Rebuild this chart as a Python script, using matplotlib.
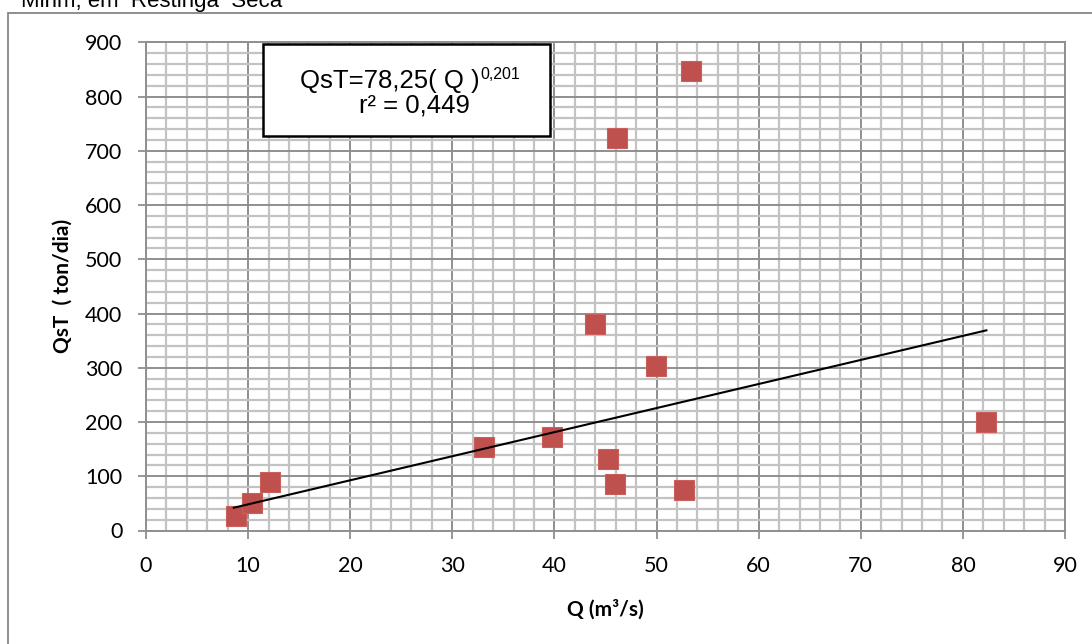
import numpy as np
import matplotlib
matplotlib.use('Agg')
import matplotlib.pyplot as plt
from matplotlib.patches import Rectangle
from matplotlib.ticker import MultipleLocator

# vazão (m³/s) x descarga sólida total (ton/dia)
vazao = [8.8, 10.4, 12.1, 33.1, 39.8, 44.0, 45.2, 45.9, 46.1, 49.9, 52.7, 53.4, 82.3]
qst = [27, 51, 89, 154, 172, 380, 131, 85, 723, 303, 74, 848, 200]

# linha de tendência (extremos)
trend_q = [8.6, 82.3]
trend_qst = [42, 369]

equation = 'QsT=78,25( Q )'
exponent = '0,201'
r2_text = 'r² = 0,449'
title_text = 'Mirim, em  Restinga  Seca'

W, H = 1092, 644
fig = plt.figure(figsize=(W / 100, H / 100), dpi=100)

# moldura do gráfico (cortada à direita e embaixo)
fig.patches.append(Rectangle((8 / W, -0.1), 1.2, 1 - 13 / H + 0.1,
                             transform=fig.transFigure, fill=False,
                             edgecolor='#868686', linewidth=1.3))
fig.text(21 / W, 1 - 7 / H, title_text, fontsize=16, family='Liberation Sans',
         ha='left', va='baseline', color='black')

ax = fig.add_axes([146 / W, 1 - 530.5 / H, (1065 - 146) / W, (530.5 - 42.3) / H])
ax.set_xlim(0, 90)
ax.set_ylim(0, 900)
ax.xaxis.set_major_locator(MultipleLocator(10))
ax.xaxis.set_minor_locator(MultipleLocator(2))
ax.yaxis.set_major_locator(MultipleLocator(100))
ax.yaxis.set_minor_locator(MultipleLocator(20))

ax.grid(which='minor', color='#c3c3c3', linewidth=1.6, zorder=0)
ax.grid(which='major', color='#8f8f8f', linewidth=1.4, zorder=0.5)
ax.set_axisbelow(True)
for s in ax.spines.values():
    s.set_color('#8f8f8f')
    s.set_linewidth(1.4)

ax.tick_params(which='major', direction='out', length=6, width=1.3, color='#8f8f8f',
               labelsize=15.5)
ax.tick_params(axis='y', pad=11)
ax.tick_params(axis='x', pad=12)
ax.tick_params(which='minor', length=0)
for lab in ax.get_xticklabels() + ax.get_yticklabels():
    lab.set_family('Lato')

ax.plot(vazao, qst, linestyle='none', marker='s', markersize=14,
        color='#c0504d', markeredgecolor='#c9605d', markeredgewidth=0.8, zorder=3)
ax.plot(trend_q, trend_qst, color='black', linewidth=1.5, zorder=4)

ax.set_xlabel('Q (m³/s)', fontsize=15, fontweight='bold', family='Lato', labelpad=17)
ax.set_ylabel('QsT  ( ton/dia)', fontsize=15, fontweight='bold', family='Lato', labelpad=9)

# caixa com a equação
fig.patches.append(Rectangle((263 / W, 1 - 136 / H), (550 - 263) / W, (136 - 44) / H,
                             transform=fig.transFigure, facecolor='white',
                             edgecolor='black', linewidth=1.8, zorder=5))
fig.text(300 / W, 1 - 88 / H, equation, fontsize=18.5, family='Liberation Sans',
         ha='left', va='baseline', zorder=6)
fig.text(480 / W, 1 - 79 / H, exponent, fontsize=11.5, family='Liberation Sans',
         ha='left', va='baseline', zorder=6)
fig.text(414 / W, 1 - 113 / H, r2_text, fontsize=18.5, family='Liberation Sans',
         ha='center', va='baseline', zorder=6)

fig.savefig('out.png', dpi=100)
